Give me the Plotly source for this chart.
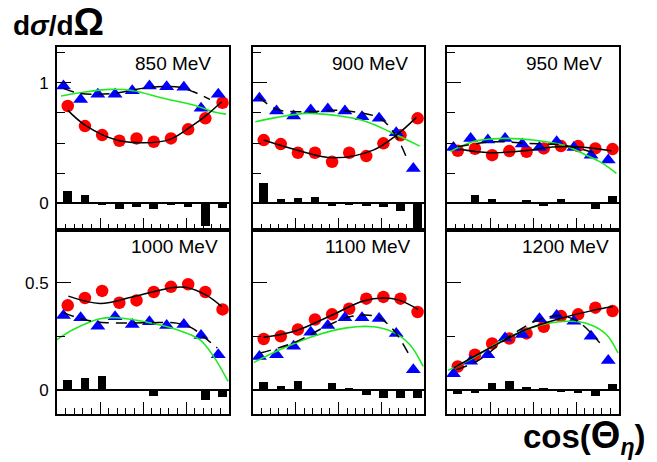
import plotly.graph_objects as go

# ---------------- data ----------------
energies = ["850 MeV", "900 MeV", "950 MeV", "1000 MeV", "1100 MeV", "1200 MeV"]
cos_bins = [-0.9, -0.7, -0.5, -0.3, -0.1, 0.1, 0.3, 0.5, 0.7, 0.9]

red_850 = [0.807, 0.641, 0.566, 0.519, 0.539, 0.511, 0.539, 0.614, 0.705, 0.834]
blue_850 = [0.972, 0.862, 0.904, 0.904, 0.934, 0.972, 0.967, 0.962, 0.788, 0.904]
diff_850 = [0.105, 0.072, -0.014, -0.05, -0.03, -0.05, -0.005, -0.03, -0.19, -0.04]
solid_x_850 = [-0.876, -0.674, -0.306, 0.004, 0.314, 0.527, 0.74, 0.915]
solid_y_850 = [0.773, 0.649, 0.525, 0.502, 0.531, 0.622, 0.732, 0.842]
dash_x_850 = [-0.926, -0.733, -0.345, 0.081, 0.43, 0.585, 0.779]
dash_y_850 = [0.953, 0.912, 0.912, 0.962, 0.962, 0.925, 0.862]
green_x_850 = [-0.953, -0.733, -0.384, -0.113, 0.236, 0.585, 0.817, 0.965]
green_y_850 = [0.89, 0.917, 0.945, 0.934, 0.871, 0.815, 0.76, 0.74]

red_900 = [0.525, 0.492, 0.42, 0.42, 0.345, 0.42, 0.392, 0.498, 0.564, 0.705]
blue_900 = [0.871, 0.765, 0.724, 0.774, 0.782, 0.765, 0.718, 0.705, 0.585, 0.29]
diff_900 = [0.171, 0.033, 0.046, 0.055, -0.022, -0.01, -0.018, -0.03, -0.064, -0.3]
solid_x_900 = [-0.876, -0.487, -0.06, 0.406, 0.678, 0.911]
solid_y_900 = [0.525, 0.442, 0.378, 0.442, 0.566, 0.713]
dash_x_900 = [-0.935, -0.72, -0.37, 0.017, 0.484, 0.678, 0.814]
dash_y_900 = [0.884, 0.779, 0.76, 0.77, 0.705, 0.552, 0.345]
green_x_900 = [-0.973, -0.72, -0.37, 0.017, 0.329, 0.6, 0.95]
green_y_900 = [0.677, 0.713, 0.746, 0.724, 0.677, 0.594, 0.475]

red_950 = [0.436, 0.453, 0.40, 0.434, 0.428, 0.456, 0.475, 0.475, 0.456, 0.45]
blue_950 = [0.464, 0.539, 0.525, 0.539, 0.492, 0.464, 0.511, 0.464, 0.40, 0.359]
diff_950 = [0.01, 0.069, 0.035, 0.003, 0.025, -0.025, 0.04, 0.01, -0.047, 0.063]
solid_x_950 = [-0.852, -0.503, -0.116, 0.272, 0.621, 0.912]
solid_y_950 = [0.448, 0.42, 0.436, 0.47, 0.464, 0.436]
dash_x_950 = [-0.872, -0.465, -0.077, 0.349, 0.737]
dash_y_950 = [0.47, 0.511, 0.498, 0.483, 0.414]
green_x_950 = [-0.96, -0.70, -0.35, 0.0, 0.35, 0.62, 0.81, 0.97]
green_y_950 = [0.43, 0.511, 0.539, 0.525, 0.483, 0.40, 0.332, 0.249]

red_1000 = [0.394, 0.428, 0.461, 0.406, 0.417, 0.456, 0.48, 0.492, 0.456, 0.375]
blue_1000 = [0.347, 0.336, 0.297, 0.341, 0.305, 0.317, 0.3, 0.305, 0.253, 0.164]
diff_1000 = [0.044, 0.055, 0.063, 0.0, -0.003, -0.027, -0.005, 0.0, -0.047, -0.034]
solid_x_1000 = [-0.868, -0.5, -0.113, 0.352, 0.508, 0.74, 0.915]
solid_y_1000 = [0.437, 0.403, 0.434, 0.477, 0.477, 0.44, 0.388]
dash_x_1000 = [-0.926, -0.694, -0.422, 0.081, 0.391, 0.566, 0.721, 0.864]
dash_y_1000 = [0.36, 0.328, 0.313, 0.313, 0.311, 0.289, 0.242, 0.195]
green_x_1000 = [-1.0, -0.81, -0.5, -0.31, 0.08, 0.39, 0.66, 0.82, 0.99]
green_y_1000 = [0.234, 0.281, 0.331, 0.336, 0.313, 0.281, 0.234, 0.156, 0.039]

red_1100 = [0.237, 0.25, 0.281, 0.328, 0.352, 0.378, 0.425, 0.433, 0.425, 0.363]
blue_1100 = [0.156, 0.164, 0.203, 0.269, 0.3, 0.336, 0.336, 0.333, 0.263, 0.094]
diff_1100 = [0.036, 0.016, 0.039, 0.003, 0.034, 0.005, -0.023, -0.04, -0.036, -0.04]
solid_x_1100 = [-0.876, -0.487, -0.1, 0.289, 0.522, 0.717, 0.93]
solid_y_1100 = [0.245, 0.277, 0.344, 0.414, 0.428, 0.417, 0.375]
dash_x_1100 = [-0.915, -0.527, -0.138, 0.134, 0.445, 0.639, 0.814]
dash_y_1100 = [0.172, 0.219, 0.297, 0.341, 0.341, 0.281, 0.172]
green_x_1100 = [-0.99, -0.68, -0.294, 0.096, 0.406, 0.639, 0.833, 0.99]
green_y_1100 = [0.128, 0.188, 0.25, 0.289, 0.294, 0.269, 0.211, 0.109]

red_1200 = [0.109, 0.164, 0.216, 0.239, 0.263, 0.294, 0.344, 0.352, 0.383, 0.367]
blue_1200 = [0.075, 0.133, 0.164, 0.242, 0.258, 0.331, 0.347, 0.32, 0.25, 0.137]
diff_1200 = [-0.019, -0.013, 0.031, 0.042, 0.013, 0.011, -0.009, -0.013, -0.028, 0.027]
solid_x_1200 = [-0.922, -0.503, -0.077, 0.349, 0.66, 0.93]
solid_y_1200 = [0.102, 0.195, 0.281, 0.336, 0.367, 0.388]
dash_x_1200 = [-0.891, -0.62, -0.271, 0.078, 0.349, 0.543, 0.776]
dash_y_1200 = [0.094, 0.141, 0.25, 0.328, 0.344, 0.313, 0.219]
green_x_1200 = [-0.988, -0.698, -0.349, 0.04, 0.427, 0.66, 0.853, 0.988]
green_y_1200 = [0.091, 0.148, 0.231, 0.297, 0.32, 0.305, 0.258, 0.172]

panels = [
    (red_850, blue_850, diff_850, solid_x_850, solid_y_850, dash_x_850, dash_y_850, green_x_850, green_y_850),
    (red_900, blue_900, diff_900, solid_x_900, solid_y_900, dash_x_900, dash_y_900, green_x_900, green_y_900),
    (red_950, blue_950, diff_950, solid_x_950, solid_y_950, dash_x_950, dash_y_950, green_x_950, green_y_950),
    (red_1000, blue_1000, diff_1000, solid_x_1000, solid_y_1000, dash_x_1000, dash_y_1000, green_x_1000, green_y_1000),
    (red_1100, blue_1100, diff_1100, solid_x_1100, solid_y_1100, dash_x_1100, dash_y_1100, green_x_1100, green_y_1100),
    (red_1200, blue_1200, diff_1200, solid_x_1200, solid_y_1200, dash_x_1200, dash_y_1200, green_x_1200, green_y_1200),
]

# ---------------- layout geometry ----------------
W, H = 657, 462
col_px = [(57, 229), (253, 424), (447, 619)]
row_px = [(47, 230), (230, 414)]
row_yrange = [(-0.22, 1.296), (-0.1125, 0.745)]
row_dtick = [1, 0.5]
label_xpos = [0.907, 0.917, 0.911, 0.948, 0.936, 0.956]

FONT = "Liberation Sans, Arial, Helvetica, sans-serif"
GREEN = "rgb(30,235,30)"

fig = go.Figure()
layout = dict(
    width=W, height=H, margin=dict(l=0, r=0, t=0, b=0),
    paper_bgcolor="white", plot_bgcolor="white", showlegend=False,
    font=dict(family=FONT, color="black"),
)
annotations = []

for i, (red, blue, diff, sx, sy, dx, dy, gx, gy) in enumerate(panels):
    r, c = divmod(i, 3)
    n = i + 1
    xa = "x" if n == 1 else f"x{n}"
    ya = "y" if n == 1 else f"y{n}"
    x0, x1 = col_px[c]
    y0, y1 = row_px[r]
    xdom = [x0 / W, x1 / W]
    ydom = [1 - y1 / H, 1 - y0 / H]
    layout[f"xaxis{'' if n == 1 else n}"] = dict(
        domain=xdom, anchor=ya, range=[-1, 1], showgrid=False, zeroline=False,
        showline=True, mirror=True, linecolor="black", linewidth=2,
        ticks="inside", ticklen=12, tickwidth=1, tickcolor="black",
        tick0=0, dtick=0.5, showticklabels=False,
        minor=dict(ticks="inside", ticklen=6, tickwidth=1, tickcolor="black", tick0=0, dtick=0.1, showgrid=False),
    )
    layout[f"yaxis{'' if n == 1 else n}"] = dict(
        domain=ydom, anchor=xa, range=list(row_yrange[r]), showgrid=False,
        zeroline=True, zerolinecolor="black", zerolinewidth=1.5,
        showline=True, mirror=True, linecolor="black", linewidth=2,
        ticks="inside", ticklen=14, tickwidth=1, tickcolor="black",
        tick0=0, dtick=row_dtick[r], showticklabels=(c == 0), ticklabelstandoff=3,
        tickfont=dict(family=FONT, size=17, color="black"),
        minor=dict(ticks="inside", ticklen=8, tickwidth=1, tickcolor="black", tick0=0, dtick=0.25, showgrid=False),
    )
    xc = [b + 0.025 for b in cos_bins]
    xt = [b - 0.025 for b in cos_bins]
    fig.add_trace(go.Bar(x=xc, y=diff, width=0.1, marker=dict(color="black", line=dict(width=0)),
                         xaxis=xa, yaxis=ya))
    fig.add_trace(go.Scatter(x=xc, y=red, mode="markers", xaxis=xa, yaxis=ya,
                             marker=dict(symbol="circle", size=12.5, color="rgb(255,0,0)")))
    fig.add_trace(go.Scatter(x=xt, y=blue, mode="markers", xaxis=xa, yaxis=ya,
                             marker=dict(symbol="triangle-up", size=13, color="rgb(0,0,255)")))
    fig.add_trace(go.Scatter(x=gx, y=gy, mode="lines", xaxis=xa, yaxis=ya,
                             line=dict(color=GREEN, width=1.6, shape="spline")))
    fig.add_trace(go.Scatter(x=sx, y=sy, mode="lines", xaxis=xa, yaxis=ya,
                             line=dict(color="black", width=1.5, shape="spline")))
    fig.add_trace(go.Scatter(x=dx, y=dy, mode="lines", xaxis=xa, yaxis=ya,
                             line=dict(color="black", width=1.5, shape="spline", dash="11px,7px")))
    annotations.append(dict(
        text=energies[i], xref=f"{xa} domain", yref=f"{ya} domain",
        x=label_xpos[i], y=0.912, xanchor="right", yanchor="middle", showarrow=False,
        font=dict(family=FONT, size=19, color="black"),
    ))

annotations.append(dict(
    text="<b>d<i>σ</i>/d<span style='font-size:38px'>Ω</span></b>", xref="paper", yref="paper",
    x=11 / W, y=1 - 22 / H, xanchor="left", yanchor="middle", showarrow=False,
    font=dict(family=FONT, size=28, color="black"),
))
annotations.append(dict(
    text="<b>cos(<span style='font-size:38px'>Θ</span><sub><i>η</i></sub>)</b>", xref="paper", yref="paper",
    x=648 / W, y=1 - 437 / H, xanchor="right", yanchor="middle", showarrow=False,
    font=dict(family=FONT, size=33, color="black"),
))
layout["annotations"] = annotations
layout["bargap"] = 0
fig.update_layout(**layout)

fig.write_html("out.html")
